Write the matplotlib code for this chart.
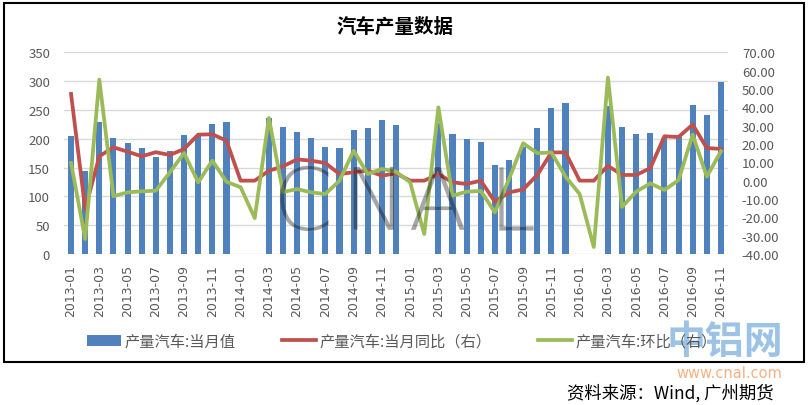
import matplotlib
matplotlib.use("Agg")
import matplotlib.pyplot as plt
import numpy as np
from matplotlib.lines import Line2D
from matplotlib.patches import Patch, Rectangle
import matplotlib.patheffects as pe

plt.rcParams['font.family'] = ['Noto Sans CJK SC', 'DejaVu Sans']

months = [f"{y}-{m:02d}" for y in range(2013, 2017) for m in range(1, 13)][:47]

production = [204, 144, 229, 201, 192, 184, 168, 179, 207, 207, 226, 229,
              None, None, 236, 220, 212, 202, 186, 184, 215, 219, 233, 224,
              None, None, 228, 208, 199, 194, 155, 163, 186, 218, 253, 262,
              None, None, 256, 220, 208, 210, 201, 203, 258, 241, 299]

yoy = [47.3, -15.5, 13.3, 18.2, 15.8, 13.3, 15.5, 14.0, 17.3, 25.1, 25.3, 21.8,
       0.0, 0.0, 5.4, 7.8, 11.6, 10.9, 9.6, 3.6, 4.6, 5.5, 2.7, 4.0,
       0.0, 0.0, 3.6, -0.9, -1.8, 0.0, -11.5, -6.4, -4.8, 3.1, 15.4, 15.4,
       0.0, 0.0, 8.1, 3.1, 3.1, 6.8, 24.2, 23.8, 30.6, 17.8, 17.3]

mom = [9.6, -31.8, 55.1, -8.5, -6.4, -5.8, -5.5, 4.6, 15.1, -0.9, 10.9, -0.6,
       -3.6, -20.4, 34.2, -6.2, -4.6, -6.4, -7.3, 0.0, 16.3, 3.6, 6.4, 4.9,
       -0.9, -29.1, 40.0, -8.2, -6.0, -5.6, -17.3, 0.9, 20.4, 15.0, 15.4, 2.2,
       -7.3, -36.2, 56.2, -14.3, -6.0, -1.5, -5.1, 0.3, 25.1, 2.2, 16.0]

left_ticks = [0, 50, 100, 150, 200, 250, 300, 350]
right_ticks = [-40, -30, -20, -10, 0, 10, 20, 30, 40, 50, 60, 70]

title = "汽车产量数据"
legend_labels = ["产量汽车:当月值", "产量汽车:当月同比（右）", "产量汽车:环比（右）"]
source = "资料来源：Wind, 广州期货"

BLUE = "#4F81BD"
RED = "#C0504D"
GREEN = "#9BBB59"
GRAY = "#595959"

fig = plt.figure(figsize=(8.08, 4.06), dpi=100)
fig.patch.set_facecolor("white")

# outer frame
fig.add_artist(Rectangle((4/808, 1-363/406), 800/808, 359/406, transform=fig.transFigure,
                         fill=False, edgecolor="black", linewidth=1.5))

ax = fig.add_axes([64/808, 1-255/406, 664/808, (255-53.3)/406])
x = np.arange(len(months))
prod_arr = np.array([np.nan if v is None else v for v in production], dtype=float)
ax.bar(x, prod_arr, width=0.43, color=BLUE, zorder=2)
ax.set_xlim(-0.5, len(months)-0.5)
ax.set_ylim(0, 350)
ax.set_yticks(left_ticks)
ax.set_yticklabels([str(t) for t in left_ticks])
ax.grid(axis="y", color="#D9D9D9", linewidth=1, zorder=0)
ax.set_axisbelow(True)
for s in ax.spines.values():
    s.set_visible(False)
ax.tick_params(axis="y", length=0, labelsize=9.5, labelcolor=GRAY, pad=10)
ax.set_xticks(x[::2])
ax.set_xticklabels(months[::2], rotation=90, fontsize=9, color=GRAY, family="DejaVu Sans")
ax.tick_params(axis="x", length=0, pad=7)

ax2 = ax.twinx()
ax2.plot(x, yoy, color=RED, linewidth=2.7, zorder=3, solid_joinstyle="round")
ax2.plot(x, mom, color=GREEN, linewidth=2.7, zorder=4, solid_joinstyle="round")
ax2.set_ylim(-40, 70)
ax2.set_yticks(right_ticks)
ax2.set_yticklabels([f"{t:.2f}" for t in right_ticks])
ax2.tick_params(axis="y", length=0, labelsize=9.5, labelcolor=GRAY, pad=10)
for s in ax2.spines.values():
    s.set_visible(False)

# faint CNAL watermark
for ch, cx in zip("CNAL", [303, 375, 438, 512]):
    fig.text(cx/808, 1-207/406, ch, fontsize=62, color="none", ha="center", va="center",
             family="DejaVu Sans", fontweight="light", zorder=5,
             path_effects=[pe.withStroke(linewidth=0.5, foreground="#A8A8A8", alpha=0.35)])

# title
fig.text(395/808, 1-27/406, title, fontsize=14, fontweight="bold", ha="center", va="center")

# legend
handles = [Patch(facecolor=BLUE, edgecolor="none"),
           Line2D([0], [0], color=RED, linewidth=2.7),
           Line2D([0], [0], color=GREEN, linewidth=2.7)]
leg = fig.legend(handles, legend_labels, ncol=3, loc="center", bbox_to_anchor=(402/808, 1-342/406),
                 frameon=False, fontsize=11, handlelength=2.2, handletextpad=0.2, columnspacing=3.1,
                 labelcolor=GRAY)

# logo watermark
fig.text(725/808, 1-343/406, "中铝网", fontsize=28, fontweight="bold", color="#5B9BD5",
         alpha=0.6, ha="center", va="center")
fig.text(729/808, 1-374/406, "www.cnal.com", fontsize=10.5, color="#F4B183", ha="center",
         va="center", family="DejaVu Sans")

fig.text(774/808, 1-393/406, source, fontsize=12.5, ha="right", va="center", color="black")

fig.savefig("out.png", dpi=100, facecolor="white")
